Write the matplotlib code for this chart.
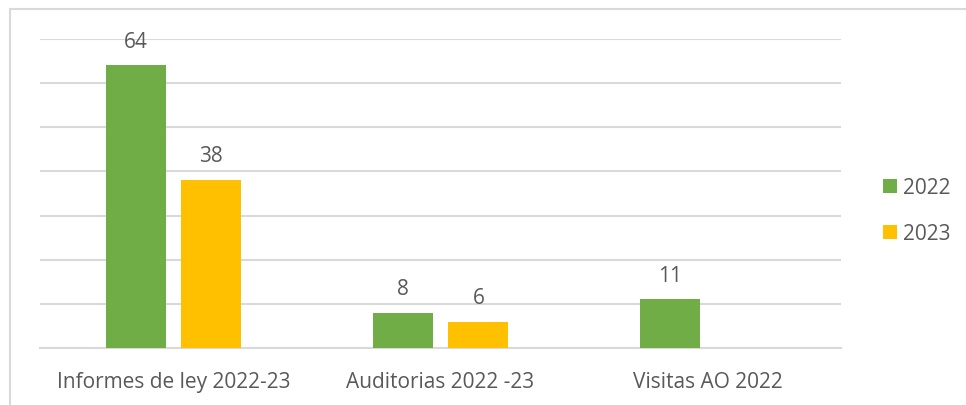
import numpy as np
import matplotlib.pyplot as plt
from matplotlib.patches import Rectangle

categories = ["Informes de ley 2022-23", "Auditorias 2022 -23", "Visitas AO 2022"]
series_names = ["2022", "2023"]
values_2022 = [64, 8, 11]
values_2023 = [38, 6, None]

green = "#70AD47"
gold = "#FFC000"
text_gray = "#595959"

plt.rcParams["font.family"] = ["Open Sans", "DejaVu Sans"]
fs = 15

W, H = 966, 405
fig = plt.figure(figsize=(W / 100, H / 100), dpi=100)

# outer chart border (cut off at right and bottom like the original)
fig.patches.append(Rectangle((10 / W, -0.1), 1.2, (H - 9) / H + 0.1,
                             transform=fig.transFigure, fill=False,
                             edgecolor="#D9D9D9", linewidth=1.5))

ax = fig.add_axes([40 / W, (H - 348) / H, (841 - 40) / W, (348 - 39) / H])

x = np.arange(len(categories))
bw = 0.225
off = 0.142

for i, (v1, v2) in enumerate(zip(values_2022, values_2023)):
    for v, dx, c, lab in [(v1, -off, green, series_names[0]), (v2, off, gold, series_names[1])]:
        if v is None:
            continue
        ax.bar(x[i] + dx, v, bw, color=c, label=lab if i == 0 else None, zorder=3)
        ax.annotate(str(v), (x[i] + dx, v), xytext=(0, 16.8), textcoords="offset points",
                    ha="center", va="center", fontsize=fs, color=text_gray)

ax.set_xlim(-0.5, len(categories) - 0.5)
ax.set_ylim(0, 70)
ax.set_yticks(np.arange(0, 71, 10))
ax.yaxis.grid(True, color="#D9D9D9", linewidth=1.5, zorder=0)
ax.set_yticklabels([])
ax.tick_params(axis="y", length=0)
ax.set_xticks(x)
ax.set_xticklabels(categories, fontsize=fs, color=text_gray)
ax.tick_params(axis="x", length=0, pad=17)
for s in ["top", "right", "left"]:
    ax.spines[s].set_visible(False)
ax.spines["bottom"].set_color("#D9D9D9")
ax.spines["bottom"].set_linewidth(1.5)

leg = fig.legend(loc="center left", bbox_to_anchor=(864 / W, (H - 211) / H),
                 frameon=False, fontsize=fs, handlelength=0.68, handleheight=0.68,
                 labelspacing=1.2, handletextpad=0.3)
for t in leg.get_texts():
    t.set_color(text_gray)

fig.savefig("out.png", dpi=100)
